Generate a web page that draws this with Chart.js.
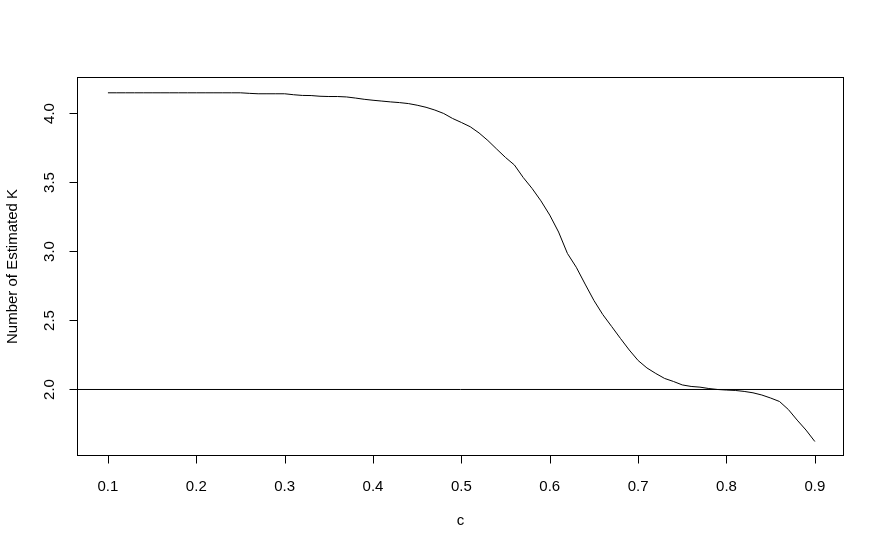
<!DOCTYPE html>
<html>
<head>
<meta charset="utf-8">
<script src="https://cdn.jsdelivr.net/npm/chart.js@4/dist/chart.umd.min.js"></script>
<style>
  html, body { margin: 0; padding: 0; background: #ffffff; }
  #wrap { width: 884px; height: 553px; }
</style>
</head>
<body>
<div id="wrap"><canvas id="c" width="884" height="553"></canvas></div>
<script>
// ---- data ----
const cValues = [0.10,0.11,0.12,0.13,0.14,0.15,0.16,0.17,0.18,0.19,
                 0.20,0.21,0.22,0.23,0.24,0.25,0.26,0.27,0.28,0.29,
                 0.30,0.31,0.32,0.33,0.34,0.35,0.36,0.37,0.38,0.39,
                 0.40,0.41,0.42,0.43,0.44,0.45,0.46,0.47,0.48,0.49,
                 0.50,0.51,0.52,0.53,0.54,0.55,0.56,0.57,0.58,0.59,
                 0.60,0.61,0.62,0.63,0.64,0.65,0.66,0.67,0.68,0.69,
                 0.70,0.71,0.72,0.73,0.74,0.75,0.76,0.77,0.78,0.79,
                 0.80,0.81,0.82,0.83,0.84,0.85,0.86,0.87,0.88,0.89,0.90];
const estimatedK = [4.150,4.150,4.150,4.150,4.150,4.150,4.150,4.150,4.150,4.150,
                    4.150,4.150,4.150,4.150,4.150,4.150,4.146,4.143,4.143,4.143,
                    4.143,4.136,4.131,4.130,4.125,4.123,4.123,4.120,4.112,4.103,
                    4.096,4.090,4.084,4.079,4.072,4.060,4.045,4.025,4.000,3.964,
                    3.935,3.904,3.859,3.804,3.742,3.681,3.627,3.536,3.457,3.367,
                    3.264,3.141,2.986,2.886,2.764,2.645,2.543,2.457,2.370,2.286,
                    2.210,2.156,2.116,2.080,2.058,2.033,2.022,2.017,2.007,2.000,
                    1.996,1.993,1.986,1.976,1.960,1.938,1.913,1.855,1.778,1.706,1.623];
const referenceLevel = 2.0;
const xTicks = [0.1,0.2,0.3,0.4,0.5,0.6,0.7,0.8,0.9];
const yTicks = [2.0,2.5,3.0,3.5,4.0];
const xTickLabels = ["0.1","0.2","0.3","0.4","0.5","0.6","0.7","0.8","0.9"];
const yTickLabels = ["2.0","2.5","3.0","3.5","4.0"];
const xTitle = "c";
const yTitle = "Number of Estimated K";
const xLimits = [0.065, 0.933];
const yLimits = [1.518, 4.2645];

const FONT = '15px "Liberation Sans", Arial, sans-serif';

const curve = cValues.map((c, i) => ({ x: c, y: estimatedK[i] }));
const hline = [{ x: xLimits[0], y: referenceLevel }, { x: xLimits[1], y: referenceLevel }];

const rAxes = {
  id: 'rAxes',
  afterDraw(chart) {
    const ctx = chart.ctx;
    const a = chart.chartArea;
    const xs = chart.scales.x, ys = chart.scales.y;
    ctx.save();
    ctx.strokeStyle = '#000';
    ctx.fillStyle = '#000';
    ctx.lineWidth = 1;
    // box
    ctx.strokeRect(a.left + 0.5, a.top + 0.5, a.right - a.left - 1, a.bottom - a.top - 1);
    const by = a.bottom - 0.5;
    const lx = a.left + 0.5;
    // x ticks
    ctx.beginPath();
    xTicks.forEach(v => {
      const px = Math.round(xs.getPixelForValue(v)) + 0.5;
      ctx.moveTo(px, by); ctx.lineTo(px, by + 8);
    });
    // y ticks
    yTicks.forEach(v => {
      const py = Math.round(ys.getPixelForValue(v)) + 0.5;
      ctx.moveTo(lx, py); ctx.lineTo(lx - 8, py);
    });
    ctx.stroke();
    ctx.font = FONT;
    ctx.textAlign = 'center';
    ctx.textBaseline = 'middle';
    xTicks.forEach((v, i) => {
      ctx.fillText(xTickLabels[i], xs.getPixelForValue(v), 487);
    });
    ctx.fillText(xTitle, (a.left + a.right) / 2, 521);
    yTicks.forEach((v, i) => {
      ctx.save();
      ctx.translate(50, ys.getPixelForValue(v));
      ctx.rotate(-Math.PI / 2);
      ctx.fillText(yTickLabels[i], 0, 0);
      ctx.restore();
    });
    ctx.save();
    ctx.translate(13, (a.top + a.bottom) / 2);
    ctx.rotate(-Math.PI / 2);
    ctx.fillText(yTitle, 0, 0);
    ctx.restore();
    ctx.restore();
  }
};

new Chart(document.getElementById('c'), {
  type: 'line',
  data: {
    datasets: [
      { data: curve, borderColor: '#000', borderWidth: 1, pointRadius: 0, tension: 0, fill: false },
      { data: hline, borderColor: '#000', borderWidth: 1, pointRadius: 0, tension: 0, fill: false }
    ]
  },
  options: {
    responsive: false,
    animation: false,
    events: [],
    layout: { padding: { left: 77, right: 40, top: 77, bottom: 97 } },
    plugins: { legend: { display: false }, tooltip: { enabled: false } },
    scales: {
      x: { type: 'linear', min: xLimits[0], max: xLimits[1], display: false },
      y: { type: 'linear', min: yLimits[0], max: yLimits[1], display: false }
    }
  },
  plugins: [rAxes]
});
</script>
</body>
</html>
